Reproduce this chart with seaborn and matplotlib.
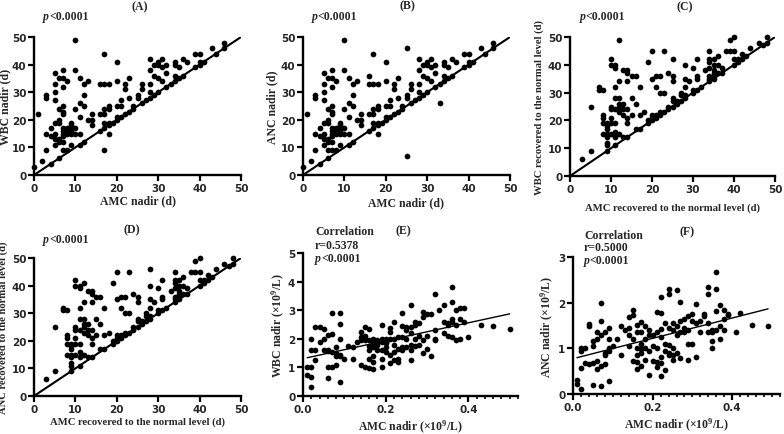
import matplotlib
matplotlib.use("Agg")
import matplotlib.pyplot as plt
import seaborn as sns
import pandas as pd
from matplotlib.ticker import MultipleLocator, FormatStrFormatter
from matplotlib import font_manager

# ---------------- data ----------------
# (A) AMC nadir (d) vs WBC nadir (d)
a_x = [0, 1, 2,
       3, 3, 3, 3,
       4, 4, 4,
       5, 5, 5, 5, 5, 5, 5, 5,
       6, 6, 6, 6, 6, 6, 6,
       7, 7, 7, 7, 7, 7, 7, 7, 7, 7, 7, 7,
       8, 8, 8, 8, 8,
       9, 9, 9, 9, 9, 9,
       10, 10, 10, 10, 10,
       11, 11, 11, 11, 11,
       12, 12, 12, 12,
       13, 13,
       14, 14, 14,
       16, 16, 16,
       17, 17, 17, 17, 17, 17, 17,
       18, 18, 18, 18, 18, 18,
       19,
       20, 20, 20, 20, 20,
       21, 21, 21,
       22, 22, 22,
       23, 23, 23,
       24, 24,
       25, 25,
       26, 26, 26,
       27,
       28, 28, 28, 28, 28,
       29, 29, 29,
       30, 30, 30, 30,
       31, 31, 31,
       32, 32, 32,
       33,
       34, 34, 34, 34,
       35, 35,
       36, 36,
       37,
       39, 39,
       40, 40, 40,
       41, 43, 44,
       46, 46]
a_y = [3, 22, 5,
       9, 15, 28, 29,
       4, 14, 17,
       11, 13, 15, 19, 27, 30, 33, 37,
       6, 12, 13, 19, 20, 24, 35,
       9, 12, 14, 15, 16, 17, 22, 23, 25, 32, 35, 38,
       9, 15, 16, 17, 34,
       11, 15, 16, 17, 18, 19,
       15, 17, 24, 38, 49,
       11, 15, 21, 26, 35,
       12, 25, 29, 33,
       20, 34,
       18, 20, 22,
       16, 22, 33,
       9, 17, 19, 22, 24, 33, 44,
       15, 18, 19, 24, 25, 33,
       19,
       20, 21, 25, 34, 41,
       21, 25, 27,
       22, 31, 33,
       23, 28, 35,
       24, 25,
       28, 29,
       26, 31, 33,
       27,
       28, 30, 33, 38, 42,
       29, 36, 40,
       30, 35, 40, 41,
       34, 39, 42,
       32, 37, 40,
       33,
       34, 36, 40, 41,
       35, 39,
       36, 42,
       41,
       39, 44,
       40, 41, 44,
       41, 46, 44,
       46, 48]

# (B) AMC nadir (d) vs ANC nadir (d)
b_x = [0, 1, 2,
       3, 3, 3, 3,
       4, 4, 4,
       5, 5, 5, 5, 5, 5, 5, 5,
       6, 6, 6, 6, 6, 6, 6, 6,
       7, 7, 7, 7, 7, 7, 7, 7, 7, 7, 7, 7,
       8, 8, 8, 8, 8,
       9, 9, 9, 9, 9, 9,
       10, 10, 10, 10, 10,
       11, 11, 11, 11, 11,
       12, 12, 12, 12,
       13, 13,
       14, 14, 14,
       16, 16, 16, 16,
       17, 17, 17, 17, 17, 17,
       18, 18, 18, 18, 18, 18,
       19,
       20, 20, 20, 20, 20,
       21, 21, 21,
       22, 22, 22,
       23, 23, 23,
       24, 24,
       25, 25, 25, 25,
       26, 26, 26,
       27,
       28, 28, 28, 28, 28,
       29, 29, 29,
       30, 30, 30, 30,
       31, 31, 31,
       32, 32, 32,
       33, 33,
       34, 34, 34, 34,
       35, 35,
       36, 36,
       37,
       39, 39,
       40, 40, 40,
       41, 43, 44,
       46, 46]
b_y = [3, 22, 5,
       9, 15, 28, 29,
       4, 14, 17,
       11, 13, 15, 19, 27, 30, 33, 37,
       6, 9, 12, 13, 19, 20, 24, 35,
       9, 12, 14, 15, 16, 17, 22, 23, 25, 32, 35, 38,
       9, 15, 16, 17, 34,
       11, 15, 16, 17, 18, 19,
       15, 17, 24, 38, 49,
       11, 15, 21, 26, 35,
       12, 25, 29, 33,
       20, 34,
       18, 20, 22,
       16, 22, 33, 36,
       17, 19, 22, 24, 33, 44,
       15, 18, 19, 24, 25, 33,
       19,
       20, 21, 25, 34, 41,
       21, 25, 27,
       22, 31, 33,
       23, 28, 35,
       24, 25,
       7, 28, 29, 46,
       26, 31, 33,
       27,
       28, 30, 33, 38, 42,
       29, 36, 40,
       30, 35, 40, 41,
       34, 39, 42,
       32, 37, 40,
       26, 33,
       34, 36, 40, 41,
       35, 39,
       36, 42,
       41,
       39, 44,
       40, 41, 44,
       41, 46, 44,
       46, 48]

# (C) AMC recovered (d) vs WBC recovered (d)
c_x = [3, 5, 5, 7, 7,
       8, 8, 8, 8, 8,
       9, 9, 9, 9, 9, 9, 9, 9,
       10, 10, 10, 10, 10, 10, 10,
       11, 11, 11, 11, 11, 11, 11, 11, 11,
       12, 12, 12, 12, 12, 12, 12,
       13, 13, 13, 13, 13,
       14, 14, 14, 14, 14, 14, 14,
       15, 15, 15,
       16, 16, 16,
       17, 17, 17,
       18,
       19, 19, 19,
       20, 20, 20, 20, 20,
       21, 21, 21, 21,
       22, 22, 22, 22,
       23, 23, 23,
       24, 24, 24,
       25, 25, 25, 25, 25, 25,
       26, 26,
       27, 27, 27,
       28, 28, 28, 28, 28,
       29,
       30, 30, 30,
       31, 31, 31, 31,
       32, 33,
       34, 34, 34, 34, 34, 34, 34,
       35, 35, 35, 35, 35, 35,
       36, 36, 36,
       37, 37,
       38,
       39, 39,
       40, 40, 40, 40,
       41, 41,
       42, 42,
       43, 44, 46, 47,
       48, 48]
c_y = [6, 9, 25, 31, 32,
       15, 19, 21, 22, 31,
       9, 11, 12, 14, 15, 17, 18, 19,
       15, 19, 21, 24, 25, 40, 42,
       11, 14, 16, 19, 24, 28, 32, 39, 40,
       15, 23, 25, 26, 28, 34, 49,
       14, 22, 24, 26, 38,
       14, 19, 21, 24, 34, 37, 38,
       22, 28, 36,
       17, 26, 36,
       17, 22, 32,
       23,
       19, 20, 41,
       20, 21, 22, 35, 45,
       21, 22, 32, 36,
       22, 23, 30, 36,
       23, 30, 45,
       24, 25, 37,
       25, 27, 28, 34, 36, 42,
       26, 27,
       27, 29, 30,
       28, 29, 32, 35, 40,
       34,
       30, 31, 39,
       31, 35, 36, 42,
       32, 38,
       34, 35, 36, 39, 41, 42, 45,
       35, 36, 37, 38, 40, 42,
       37, 40, 43,
       37, 39,
       45,
       45, 49,
       40, 42, 45, 50,
       41, 42,
       42, 44,
       43, 46, 48, 47,
       48, 50]

# (D) AMC recovered (d) vs ANC recovered (d)
d_x = [3, 5, 5, 7, 7,
       8, 8, 8, 8, 8,
       9, 9, 9, 9, 9, 9, 9, 9,
       10, 10, 10, 10, 10, 10, 10,
       11, 11, 11, 11, 11, 11, 11, 11, 11,
       12, 12, 12, 12, 12, 12, 12,
       13, 13, 13, 13, 13,
       14, 14, 14, 14, 14, 14, 14,
       15, 15, 15,
       16, 16, 16,
       17, 17, 17,
       18,
       19, 19, 19,
       20, 20, 20, 20, 20,
       21, 21, 21, 21,
       22, 22, 22, 22,
       23, 23, 23,
       24, 24, 24,
       25, 25, 25, 25, 25,
       26, 26,
       27, 27, 27,
       28, 28, 28, 28, 28, 28,
       29,
       30, 30, 30,
       31, 31, 31, 31,
       32, 33,
       34, 34, 34, 34, 34, 34, 34,
       35, 35, 35, 35, 35, 35,
       36, 36, 36,
       37, 37,
       38,
       39, 39,
       40, 40, 40, 40,
       41, 41,
       42, 42,
       43, 44, 46, 47,
       48, 48]
d_y = [6, 9, 25, 31, 32,
       15, 19, 21, 22, 31,
       9, 11, 12, 14, 15, 17, 18, 19,
       15, 19, 21, 24, 25, 40, 42,
       11, 14, 16, 19, 24, 28, 32, 39, 40,
       15, 23, 25, 26, 28, 34, 41,
       14, 22, 24, 26, 38,
       14, 19, 21, 24, 34, 37, 38,
       22, 28, 36,
       17, 26, 36,
       17, 22, 32,
       23,
       19, 20, 41,
       20, 21, 22, 35, 45,
       21, 22, 32, 36,
       22, 23, 30, 36,
       23, 30, 45,
       24, 25, 37,
       25, 27, 28, 34, 36,
       26, 27,
       27, 29, 30,
       28, 29, 32, 35, 40, 46,
       34,
       30, 31, 39,
       31, 35, 36, 42,
       32, 38,
       34, 35, 36, 39, 41, 42, 45,
       35, 36, 37, 38, 40, 42,
       37, 40, 43,
       37, 39,
       45,
       45, 49,
       40, 42, 45, 50,
       41, 42,
       42, 44,
       43, 46, 48, 47,
       48, 50]

# (E) AMC nadir (x10^9/L) vs WBC nadir (x10^9/L)
e_x = [0.01, 0.01,
       0.02, 0.02, 0.02, 0.02, 0.02,
       0.03, 0.03, 0.03,
       0.04, 0.04,
       0.05, 0.05, 0.05,
       0.06, 0.06, 0.06, 0.06, 0.06,
       0.07, 0.07, 0.07, 0.07,
       0.08, 0.08, 0.08, 0.08,
       0.09, 0.09, 0.09, 0.09, 0.09, 0.09,
       0.10, 0.11, 0.12, 0.12, 0.13,
       0.14, 0.14, 0.14, 0.14,
       0.15, 0.15, 0.15, 0.15, 0.15,
       0.16, 0.16, 0.16, 0.16, 0.16, 0.16,
       0.17, 0.17, 0.17, 0.17, 0.17, 0.17,
       0.18, 0.18, 0.18, 0.18,
       0.19, 0.19, 0.19, 0.19, 0.19, 0.19,
       0.20, 0.20, 0.20, 0.20, 0.20,
       0.21, 0.21, 0.21, 0.21, 0.21,
       0.22, 0.22, 0.22, 0.22, 0.22,
       0.23, 0.23, 0.23, 0.23,
       0.24, 0.24, 0.24, 0.24, 0.24,
       0.25, 0.25, 0.25, 0.25,
       0.26, 0.26, 0.26, 0.26, 0.26, 0.26,
       0.27, 0.27, 0.27, 0.27,
       0.28, 0.28, 0.28,
       0.29, 0.29, 0.29, 0.29,
       0.30, 0.30, 0.30,
       0.31, 0.31,
       0.32, 0.32, 0.32, 0.32,
       0.33,
       0.34, 0.34, 0.34,
       0.35, 0.35, 0.35,
       0.36, 0.36, 0.36, 0.36, 0.36,
       0.37, 0.37, 0.37,
       0.38, 0.38, 0.38,
       0.39, 0.39,
       0.40, 0.43, 0.46, 0.50]
e_y = [0.72, 1.00,
       0.30, 0.65, 1.02, 1.62, 2.00,
       1.25, 1.60, 2.40,
       1.88, 2.42,
       1.60, 2.00, 2.35,
       0.62, 1.02, 1.58, 1.62, 2.15,
       1.00, 1.55, 2.18, 2.90,
       1.10, 1.40, 1.50, 1.70,
       0.48, 1.40, 1.45, 2.00, 2.52, 2.90,
       1.30, 1.75, 1.30, 1.72, 1.90,
       1.10, 1.95, 2.05, 2.25,
       1.00, 1.95, 2.00, 2.10, 2.40,
       0.98, 1.30, 1.60, 1.75, 1.95, 2.35,
       0.95, 1.20, 1.40, 1.70, 1.90, 2.00,
       1.60, 1.80, 1.85, 1.95,
       1.02, 1.30, 1.60, 1.90, 2.00, 2.50,
       1.55, 1.70, 1.85, 1.90, 2.00,
       1.15, 1.45, 2.00, 2.25, 2.38,
       1.25, 1.55, 1.80, 2.00, 2.60,
       1.20, 1.30, 1.65, 2.05,
       1.60, 1.70, 2.05, 2.45, 2.90,
       1.70, 2.00, 2.30, 2.40,
       1.25, 1.60, 1.80, 2.20, 2.40, 3.18,
       1.75, 2.00, 2.50, 2.60,
       1.80, 2.10, 2.55,
       1.50, 1.95, 2.75, 2.95,
       1.65, 2.10, 2.85,
       1.40, 2.85,
       1.95, 2.00, 2.30, 3.57,
       3.00,
       2.20, 2.60, 3.18,
       2.10, 2.50, 2.55,
       2.05, 2.60, 2.70, 3.30, 3.82,
       1.95, 2.50, 3.00,
       2.00, 2.70, 3.07,
       2.60, 3.07,
       2.05, 2.48, 2.45, 2.33]

# (F) AMC nadir (x10^9/L) vs ANC nadir (x10^9/L)
f_x = [0.01, 0.01,
       0.02, 0.02, 0.02, 0.02,
       0.03, 0.03,
       0.04, 0.04, 0.04,
       0.05, 0.05, 0.05, 0.05,
       0.06, 0.06, 0.06, 0.06,
       0.07, 0.07, 0.07, 0.07, 0.07,
       0.08, 0.08, 0.08, 0.08,
       0.09, 0.09, 0.09, 0.09, 0.09,
       0.10, 0.11, 0.12, 0.12, 0.13,
       0.14, 0.14, 0.14, 0.14,
       0.15, 0.15, 0.15, 0.15,
       0.16, 0.16, 0.16, 0.16, 0.16, 0.16,
       0.17, 0.17, 0.17, 0.17, 0.17, 0.17,
       0.18, 0.18, 0.18, 0.18,
       0.19, 0.19, 0.19, 0.19,
       0.20, 0.20, 0.20,
       0.21, 0.21, 0.21, 0.21, 0.21,
       0.22, 0.22, 0.22, 0.22, 0.22, 0.22, 0.22,
       0.23, 0.23, 0.23, 0.23,
       0.24, 0.24, 0.24, 0.24, 0.24, 0.24,
       0.25, 0.25, 0.25, 0.25, 0.25,
       0.26, 0.26, 0.26, 0.26,
       0.27, 0.27, 0.27, 0.27,
       0.28, 0.28, 0.28,
       0.29, 0.29, 0.29, 0.29,
       0.30, 0.30, 0.30,
       0.31, 0.31, 0.31,
       0.32, 0.32,
       0.33, 0.33,
       0.34, 0.34, 0.34, 0.34,
       0.35, 0.35, 0.35, 0.35,
       0.36, 0.36, 0.36, 0.36,
       0.37, 0.37, 0.37,
       0.38, 0.38, 0.38,
       0.39, 0.39,
       0.41, 0.42, 0.45, 0.49]
f_y = [0.22, 0.30,
       0.10, 0.58, 0.95, 1.00,
       0.68, 1.00,
       0.65, 1.50, 1.53,
       0.20, 0.68, 1.05, 1.15,
       0.55, 0.72, 1.20, 1.35,
       0.18, 0.62, 1.30, 1.60, 2.00,
       0.65, 0.85, 0.90, 1.35,
       0.28, 0.95, 1.00, 1.20, 1.45,
       1.05, 1.20, 0.85, 1.50, 1.40,
       1.05, 1.30, 1.45, 1.68,
       0.72, 1.20, 1.72, 1.85,
       0.55, 0.70, 0.85, 1.00, 1.35, 1.52,
       0.62, 0.90, 0.98, 1.10, 1.35, 1.58,
       0.75, 1.00, 1.20, 1.50,
       0.42, 0.95, 1.30, 1.40,
       0.72, 1.05, 1.30,
       0.60, 0.70, 1.00, 1.35, 1.80,
       0.40, 0.68, 0.80, 1.25, 1.42, 1.78, 2.12,
       0.52, 0.95, 1.10, 1.55,
       0.85, 0.90, 1.08, 1.45, 2.18, 2.30,
       0.75, 0.85, 1.00, 1.40, 1.55,
       0.90, 1.30, 1.50, 2.28,
       0.78, 1.35, 1.60, 2.02,
       1.35, 1.45, 1.65,
       0.75, 1.10, 1.40, 1.70,
       1.10, 1.60, 1.75,
       0.80, 1.55, 1.98,
       1.35, 1.60,
       1.70, 1.75,
       1.35, 1.55, 2.18, 2.35,
       1.00, 1.15, 1.35, 1.40,
       1.40, 1.82, 2.30, 2.68,
       1.20, 1.50, 1.95,
       1.40, 1.65, 1.85,
       1.72, 1.75,
       1.35, 1.78, 1.52, 1.48]

identity_line = [0, 50]

panel_letters = ["(A)", "(B)", "(C)", "(D)", "(E)", "(F)"]
x_labels = ["AMC nadir (d)", "AMC nadir (d)",
            "AMC recovered to the normal level (d)",
            "AMC recovered to the normal level (d)",
            "AMC nadir (\u00d710$^{\\mathbf{9}}$/L)",
            "AMC nadir (\u00d710$^{\\mathbf{9}}$/L)"]
y_labels = ["WBC nadir (d)", "ANC nadir (d)",
            "WBC recovered to the normal level (d)",
            "ANC recovered to the normal level (d)",
            "WBC nadir (\u00d710$^{\\mathbf{9}}$/L)",
            "ANC nadir (\u00d710$^{\\mathbf{9}}$/L)"]
r_values = ["r=0.5378", "r=0.5000"]
p_text = "<0.0001"

# ---------------- style ----------------
sns.set_theme(style="ticks")
plt.rcParams['font.family'] = ['Liberation Sans', 'DejaVu Sans']
plt.rcParams['font.weight'] = 'bold'
plt.rcParams['mathtext.fontset'] = 'custom'
plt.rcParams['mathtext.rm'] = 'Liberation Serif:bold'
plt.rcParams['mathtext.bf'] = 'Liberation Serif:bold'
plt.rcParams['mathtext.it'] = 'Liberation Serif:italic:bold'

SERIF = 'Liberation Serif'
TICK_FP = font_manager.FontProperties(family='DejaVu Sans', weight='bold',
                                      size=7.5)
W, H = 784, 435
fig = plt.figure(figsize=(W / 100, H / 100), dpi=100)
fig.patch.set_facecolor('white')
all_axes = []


def add_axes(l, r, t, b):
    return fig.add_axes([l / W, 1 - b / H, (r - l) / W, (b - t) / H])


def style_axes(ax, xl, yl, xlab_y, ylab_x, lab_fs=8.5):
    sns.despine(ax=ax)
    for s in ('left', 'bottom'):
        ax.spines[s].set_linewidth(1.7)
        ax.spines[s].set_color('black')
    ax.tick_params(axis='both', which='major', direction='out', length=4,
                   width=1.6, labelsize=7.5, color='black', pad=1.5)
    ax.tick_params(axis='both', which='minor', direction='out', length=2.5,
                   width=1.2, color='black')
    ax.set_xlabel(xl, fontfamily=SERIF, fontweight='bold', fontsize=lab_fs)
    ax.set_ylabel(yl, fontfamily=SERIF, fontweight='bold', fontsize=lab_fs)
    ax.xaxis.set_label_coords(0.5, xlab_y)
    ax.yaxis.set_label_coords(ylab_x, 0.5)
    ax.xaxis.label.set_va('center')
    ax.yaxis.label.set_va('center')
    ax.set_facecolor('white')
    all_axes.append(ax)


def ftext(x, y, s, **kw):
    kw.setdefault('fontfamily', SERIF)
    kw.setdefault('fontweight', 'bold')
    kw.setdefault('fontsize', 8.5)
    kw.setdefault('va', 'center')
    return fig.text(x / W, 1 - y / H, s, **kw)


def ptext(x, y):
    t = ftext(x, y, "p", style='italic', ha='left')
    return fig.add_artist(matplotlib.text.Annotation(
        p_text, xy=(1, 0), xycoords=t, va='bottom', ha='left',
        fontfamily=SERIF, fontweight='bold', fontsize=8.5,
        annotation_clip=False))


def diag_panel(box, xs, ys, idx, xlab_y, ylab_x, lab_fs=8.5):
    ax = add_axes(*box)
    df = pd.DataFrame({'x': xs, 'y': ys})
    sns.lineplot(x=identity_line, y=identity_line, ax=ax, color='black',
                 linewidth=1.5, zorder=2)
    sns.scatterplot(data=df, x='x', y='y', ax=ax, color='black', s=17,
                    linewidth=0, zorder=3, clip_on=False)
    ax.set_xlim(0, 50)
    ax.set_ylim(0, 50)
    ax.xaxis.set_major_locator(MultipleLocator(10))
    ax.yaxis.set_major_locator(MultipleLocator(10))
    style_axes(ax, x_labels[idx], y_labels[idx], xlab_y, ylab_x, lab_fs)
    return ax


def corr_panel(box, xs, ys, idx, ymax, xlab_y, ylab_x):
    ax = add_axes(*box)
    df = pd.DataFrame({'x': xs, 'y': ys})
    sns.scatterplot(data=df, x='x', y='y', ax=ax, color='black', s=17,
                    linewidth=0, zorder=3, clip_on=False)
    sns.regplot(data=df, x='x', y='y', ax=ax, scatter=False, ci=None,
                truncate=True, color='black', line_kws={'linewidth': 1.0})
    ax.set_xlim(0, 0.52)
    ax.set_ylim(0, ymax)
    ax.xaxis.set_major_locator(MultipleLocator(0.2))
    ax.xaxis.set_minor_locator(MultipleLocator(0.02))
    ax.yaxis.set_major_locator(MultipleLocator(1))
    ax.xaxis.set_major_formatter(FormatStrFormatter('%.1f'))
    style_axes(ax, x_labels[idx], y_labels[idx], xlab_y, ylab_x)
    return ax


# ---------------- panels ----------------
diag_panel((34, 241, 38, 176), a_x, a_y, 0, -0.185, -0.14)
diag_panel((303, 510, 38, 176), b_x, b_y, 1, -0.2, -0.15)
diag_panel((570, 775, 38, 177), c_x, c_y, 2, -0.225, -0.152, lab_fs=7.7)
diag_panel((34, 241, 259, 397), d_x, d_y, 3, -0.18, -0.147, lab_fs=7.7)
corr_panel((303, 518, 254, 397), e_x, e_y, 4, 5, -0.215, -0.115)
corr_panel((573, 780, 258, 395), f_x, f_y, 5, 3, -0.225, -0.125)

# ---------------- annotations ----------------
ftext(140, 7, panel_letters[0], ha='center')
ftext(407, 6, panel_letters[1], ha='center')
ftext(685, 7, panel_letters[2], ha='center')
ftext(132, 230, panel_letters[3], ha='center')
ftext(403, 231, panel_letters[4], ha='center')
ftext(687, 232, panel_letters[5], ha='center')

ptext(43, 17)
ptext(312, 17)
ptext(580, 17)
ptext(43, 240)

ftext(315, 232, "Correlation", ha='left')
ftext(315, 246, r_values[0], ha='left')
ptext(315, 259)

ftext(584, 236, "Correlation", ha='left')
ftext(584, 248, r_values[1], ha='left')
ptext(584, 261)

# bold tick labels once ticks are final
fig.canvas.draw()
for ax in all_axes:
    for lbl in ax.get_xticklabels() + ax.get_yticklabels():
        lbl.set_fontproperties(TICK_FP)

fig.savefig("out.png", dpi=100, facecolor='white')
